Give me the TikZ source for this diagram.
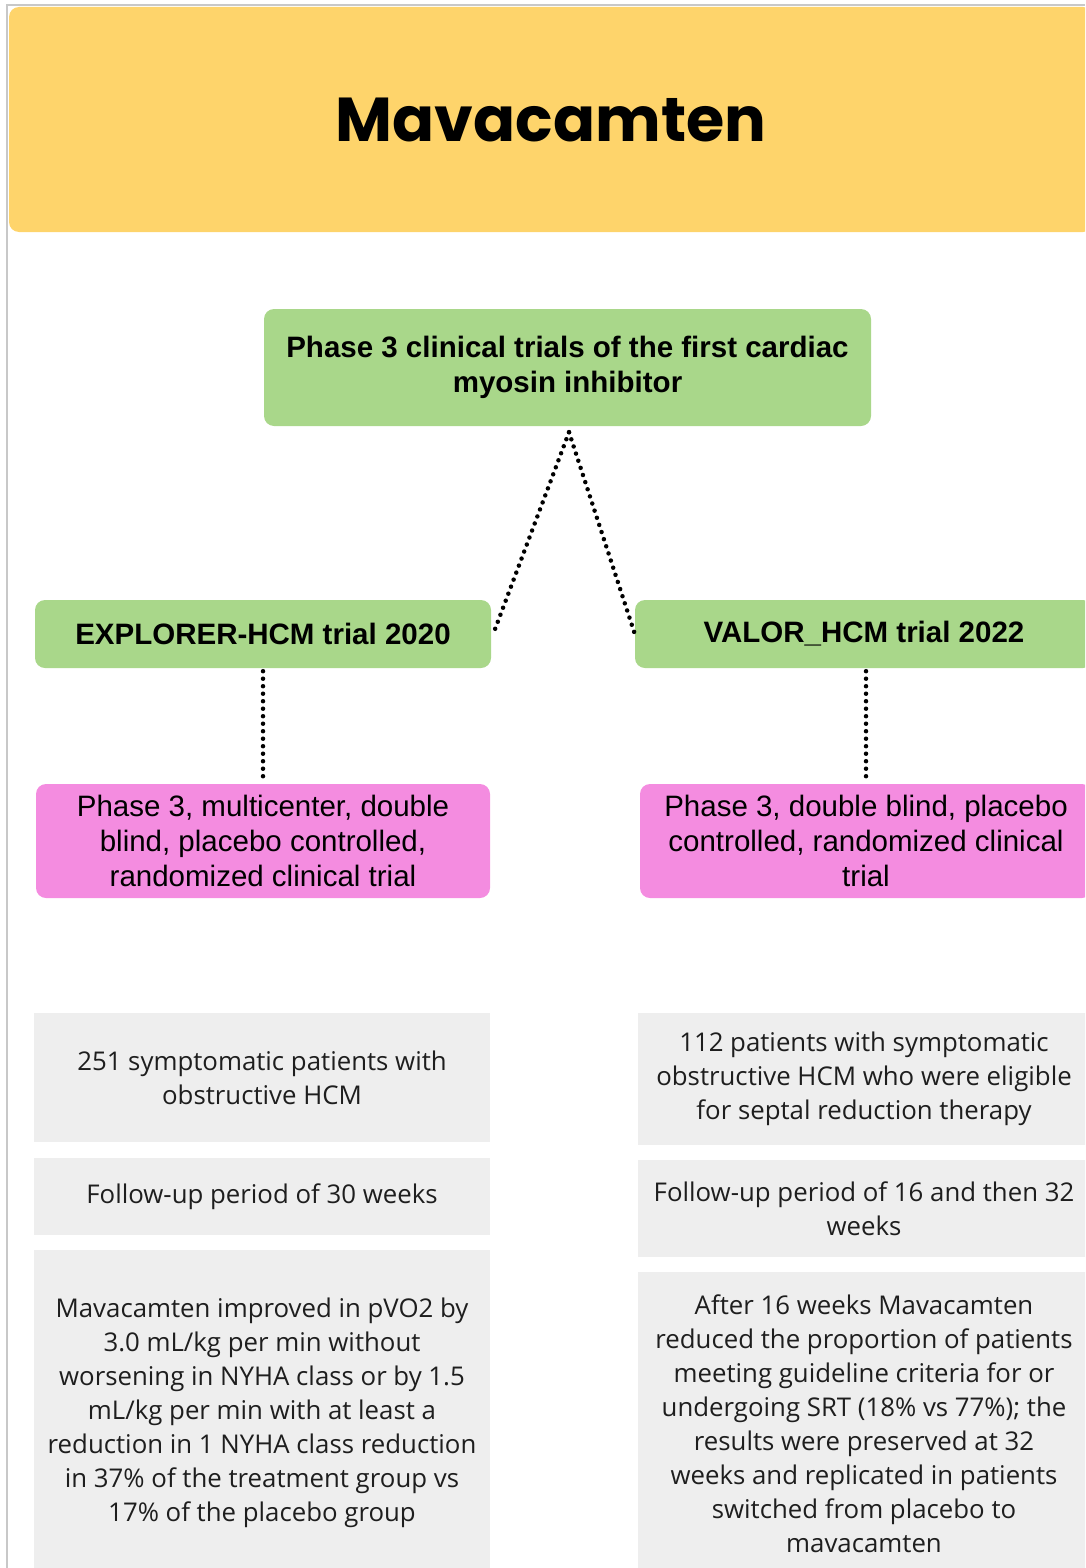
\documentclass[tikz,border=0pt]{standalone}
\usepackage{fontspec}
\setmainfont{Liberation Sans}
\newfontfamily\titlefont{Poppins}
\newfontfamily\infofont{Open Sans}
\definecolor{headyellow}{HTML}{FED46B}
\definecolor{trialgreen}{HTML}{A9D78A}
\definecolor{designpink}{HTML}{F48CE0}
\definecolor{infogray}{HTML}{EEEEEE}
\definecolor{infotext}{HTML}{1E1E1E}
\definecolor{framegray}{HTML}{C8C8C8}
\begin{document}
\begin{tikzpicture}[x=1pt, y=-1pt,
    header/.style={rectangle, rounded corners=10pt, fill=headyellow, inner sep=0pt, font=\titlefont\bfseries\fontsize{62}{74}\selectfont},
    trial/.style={rectangle, rounded corners=10pt, fill=trialgreen, inner sep=0pt, align=center, font=\bfseries\fontsize{29.5}{35}\selectfont},
    design/.style={rectangle, rounded corners=10pt, fill=designpink, inner sep=0pt, align=center, font=\fontsize{29.5}{35}\selectfont},
    info/.style={rectangle, fill=infogray, text=infotext, inner sep=0pt, align=center, font=\infofont\fontsize{25.8}{34}\selectfont},
    dots/.style={line width=4.5pt, line cap=round, dash pattern=on 0pt off 7.5pt},
]
\useasboundingbox (0,0) rectangle (1085,1568);
\clip (0,0) rectangle (1085,1568);

% Titel
\node[header, minimum width=1084pt, minimum height=225pt] (title) at (551,119.5) {Mavacamten};
\draw[framegray, line width=1.2pt] (7,1568) -- (7,5) -- (1085,5);

% Studien
\node[trial, minimum width=607pt, minimum height=117pt] (top) at (567.5,367.5) {Phase 3 clinical trials of the first cardiac\\myosin inhibitor};
\node[trial, minimum width=456pt, minimum height=68pt] (explorer) at (263,634) {EXPLORER-HCM trial 2020};
\node[trial, minimum width=458pt, minimum height=68pt] (valor) at (864,634) {VALOR\_HCM trial 2022};

\node[design, minimum width=454pt, minimum height=114pt] (expdesign) at (263,841) {Phase 3, multicenter, double\\blind, placebo controlled,\\randomized clinical trial};
\node[design, minimum width=452pt, minimum height=114pt] (valdesign) at (866,841) {Phase 3, double blind, placebo\\controlled, randomized clinical\\trial};

% Details
\node[info, minimum width=456pt, minimum height=129pt] (exppat) at (262,1077.5) {251 symptomatic patients with\\obstructive HCM};
\node[info, minimum width=456pt, minimum height=77pt] (expfu) at (262,1196.5) {Follow-up period of 30 weeks};
\node[info, minimum width=456pt, minimum height=326pt] (expres) at (262,1413) {Mavacamten improved in pVO2 by\\3.0 mL/kg per min without\\worsening in NYHA class or by 1.5\\mL/kg per min with at least a\\reduction in 1 NYHA class reduction\\in 37\% of the treatment group vs\\17\% of the placebo group};

\node[info, minimum width=452pt, minimum height=132pt] (valpat) at (864,1079) {112 patients with symptomatic\\obstructive HCM who were eligible\\for septal reduction therapy};
\node[info, minimum width=452pt, minimum height=97pt] (valfu) at (864,1208.5) {Follow-up period of 16 and then 32\\weeks};
\node[info, minimum width=452pt, minimum height=303pt] (valres) at (864,1423.5) {After 16 weeks Mavacamten\\reduced the proportion of patients\\meeting guideline criteria for or\\undergoing SRT (18\% vs 77\%); the\\results were preserved at 32\\weeks and replicated in patients\\switched from placebo to\\mavacamten};

% Verbindungen
\coordinate (apex) at ([xshift=1.5pt, yshift=-6pt]top.south);
\draw[dots] (apex) -- ([xshift=2pt]explorer.east);
\draw[dots] (apex) -- (valor.west);
\draw[dots] ([yshift=-3pt]explorer.south) -- ([yshift=3pt]expdesign.north);
\draw[dots] ([xshift=2pt, yshift=-3pt]valor.south) -- ([yshift=3pt]valdesign.north);
\end{tikzpicture}
\end{document}
